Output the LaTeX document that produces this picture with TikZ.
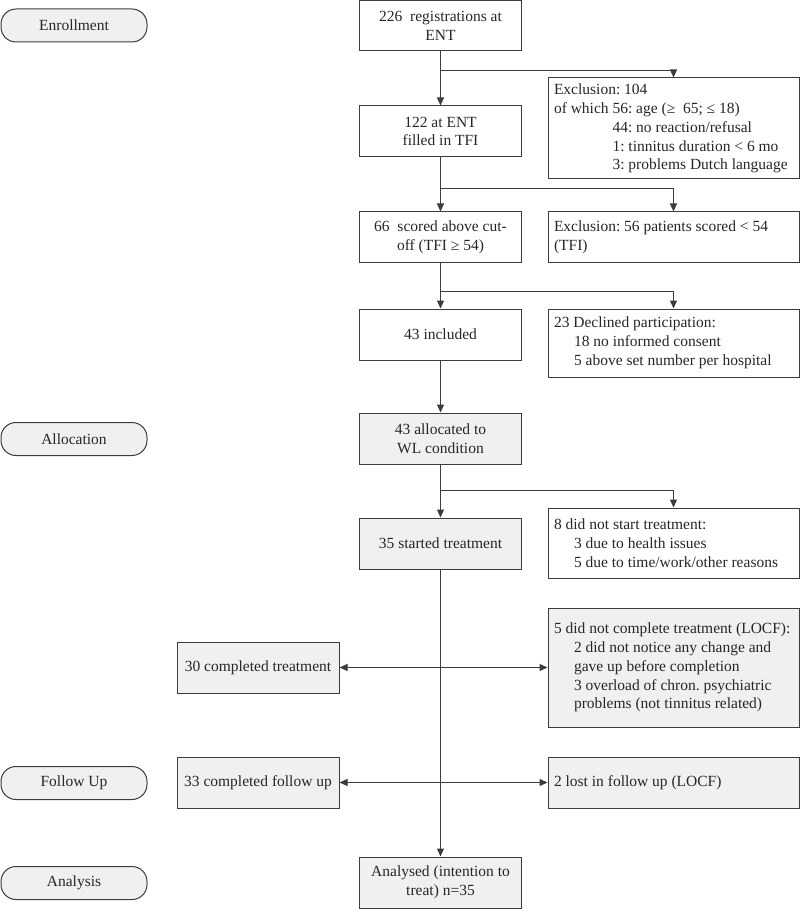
\documentclass[tikz,border=0pt]{standalone}
\usepackage{fontspec}
\setmainfont{Liberation Serif}
\usetikzlibrary{arrows.meta}
\definecolor{linegray}{HTML}{3C3C3C}
\definecolor{boxgray}{HTML}{F0F0F0}
\newcommand{\ofwhich}{\hphantom{of which\ }}
\newcommand{\indentline}{\hspace*{20pt}}
\frenchspacing
\tikzset{
  every node/.style={font=\fontsize{15.5}{18.8}\selectfont, text=black!85},
  phase/.style={draw=linegray, line width=1pt, fill=boxgray, rounded corners=15pt,
    minimum width=146pt, minimum height=33pt},
  box/.style={draw=linegray, line width=1pt, minimum width=162pt, minimum height=51pt,
    align=center, inner sep=2pt},
  greybox/.style={box, fill=boxgray},
  side/.style={draw=linegray, line width=1pt, text width=239pt, inner xsep=6pt,
    inner ysep=2pt, align=flush left},
  greyside/.style={side, fill=boxgray},
  link/.style={draw=linegray, line width=1pt, -{Triangle[length=8pt,width=7pt]}},
  twoway/.style={link, {Triangle[length=8pt,width=7pt]}-{Triangle[length=8pt,width=7pt]}}
}
\begin{document}
\begin{tikzpicture}[x=1pt,y=-1pt]
  \useasboundingbox (0,0) rectangle (800,909);
  \node[phase] (enroll) at (74,25.5) {Enrollment};
  \node[phase] (allocation) at (74,439) {Allocation};
  \node[phase] (follow) at (74,783) {Follow Up};
  \node[phase] (analysis) at (74,883) {Analysis};

  \node[box, minimum height=50pt] (reg) at (440.5,26) {226\ \ registrations at\\ENT};
  \node[box] (tfi) at (440.5,131.5) {122 at ENT\\filled in TFI};
  \node[box, minimum height=50pt] (cutoff) at (440.5,237) {66\ \ scored above cut-\\off (TFI ≥ 54)};
  \node[box] (included) at (440.5,334.5) {43 included};
  \node[greybox] (allocated) at (440.5,438.5) {43 allocated to\\WL condition};
  \node[greybox] (started) at (440.5,543.5) {35 started treatment};
  \node[greybox] (analysed) at (440.5,882.5) {Analysed (intention to\\treat) n=35};

  \node[greybox] (completed) at (258,667.5) {30 completed treatment};
  \node[greybox] (followed) at (258,782.5) {33 completed follow up};

  \node[side, minimum height=101pt] (excl) at (673.5,128.5)
    {Exclusion: 104\\
     of which 56: age (≥\ \ 65; ≤ 18)\\
     \ofwhich{}44: no reaction/refusal\\
     \ofwhich{}1: tinnitus duration < 6 mo\\
     \ofwhich{}3: problems Dutch language};
  \node[side, minimum height=50pt] (cutexcl) at (673.5,237)
    {Exclusion: 56 patients scored < 54\\(TFI)};
  \node[side, minimum height=68pt] (declined) at (673.5,343)
    {23 Declined participation:\\
     \indentline 18 no informed consent\\
     \indentline 5 above set number per hospital};
  \node[side, minimum height=70pt] (notstart) at (673.5,543)
    {8 did not start treatment:\\
     \indentline 3 due to health issues\\
     \indentline 5 due to time/work/other reasons};
  \node[greyside, minimum height=119pt] (notcomplete) at (673.5,667.5)
    {5 did not complete treatment (LOCF):\\
     \indentline 2 did not notice any change and\\
     \indentline gave up before completion\\
     \indentline 3 overload of chron. psychiatric\\
     \indentline problems (not tinnitus related)};
  \node[greyside, minimum height=51pt] (lost) at (673.5,782.5) {2 lost in follow up (LOCF)};

  \coordinate (s1) at (440.5,71);
  \coordinate (s2) at (440.5,189);
  \coordinate (s3) at (440.5,291);
  \coordinate (s4) at (440.5,490);

  \draw[link] (reg) -- (tfi);
  \draw[link] (s1) -| (excl.north);
  \draw[link] (tfi) -- (cutoff);
  \draw[link] (s2) -| (cutexcl.north);
  \draw[link] (cutoff) -- (included);
  \draw[link] (s3) -| (declined.north);
  \draw[link] (included) -- (allocated);
  \draw[link] (allocated) -- (started);
  \draw[link] (s4) -| (notstart.north);
  \draw[link] (started) -- (analysed);
  \draw[twoway] (completed) -- (notcomplete);
  \draw[twoway] (followed) -- (lost);
\end{tikzpicture}
\end{document}
